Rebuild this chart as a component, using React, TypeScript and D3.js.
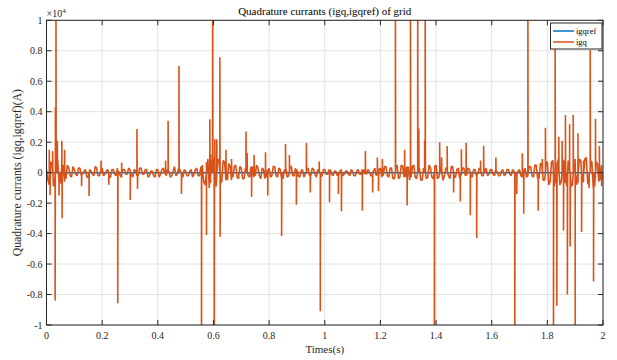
import React from "react";
import * as d3 from "d3";

// ---- data (values in units of 1e4 A) ----
const xTicks = [0, 0.2, 0.4, 0.6, 0.8, 1, 1.2, 1.4, 1.6, 1.8, 2];
const yTicks = [-1, -0.8, -0.6, -0.4, -0.2, 0, 0.2, 0.4, 0.6, 0.8, 1];
const xTickLabels = ["0", "0.2", "0.4", "0.6", "0.8", "1", "1.2", "1.4", "1.6", "1.8", "2"];
const yTickLabels = ["-1", "-0.8", "-0.6", "-0.4", "-0.2", "0", "0.2", "0.4", "0.6", "0.8", "1"];

// baseline ripple of igq, samples every 0.01 s (and a second set offset by 0.005 s),
// in units of 0.01 x 1e4
const baseStep = 0.01;
const baseNoise = [
  2, -8, 6, -5, 9, -7, 5, -4, 3, -3,
  2, -2, 3, -1, 2, -3, 1, -2, 3, -2,
  3, -1, 2, -3, 2, -2, 1, -3, 2, -1,
  2, -3, 1, -2, 3, -1, 2, -2, 1, -3,
  2, -1, 3, -2, 1, -2, 4, -1, 2, -3,
  1, -2, 2, -1, 3, -2, 5, -8, 9, -7,
  10, -9, 8, -6, 7, -5, 4, -3, 5, -4,
  3, -4, 5, -3, 4, -2, 3, -4, 2, -3,
  3, -2, 4, -3, 2, -4, 3, -2, 4, -2,
  2, -3, 2, -1, 3, -2, 2, -3, 1, -2,
  2, -1, 2, -2, 1, -2, 2, -1, 1, -2,
  1, -2, 2, -1, 2, -1, 1, -2, 3, -1,
  3, -2, 4, -3, 3, -4, 5, -3, 4, -3,
  4, -3, 5, -4, 3, -5, 4, -3, 3, -4,
  5, -3, 4, -2, 3, -4, 4, -3, 3, -2,
  3, -2, 2, -3, 2, -1, 2, -2, 3, -1,
  2, -2, 1, -2, 2, -1, 2, -2, 1, -2,
  2, -3, 3, -2, 4, -3, 5, -4, 6, -5,
  7, -6, 8, -7, 9, -6, 8, -9, 7, -8,
  9, -7, 8, -6, 10, -8, 7, -9, 6, -5,
  -4,
];
const baseNoiseMid = [
  -5, 7, -9, 8, -6, 4, -6, 5, -2, 4,
  -1, 3, -2, 1, -3, 2, -1, 4, -2, 1,
  -2, 1, -3, 2, -1, 3, -2, 2, -1, 3,
  -1, 2, -2, 3, -1, 2, -3, 1, -2, 2,
  -3, 2, -1, 2, -3, 1, -2, 3, -1, 2,
  -2, 1, -3, 2, -2, 4, -6, 7, -10, 8,
  -8, 9, -7, 8, -5, 6, -5, 4, -3, 4,
  -4, 3, -2, 4, -3, 5, -2, 3, -4, 2,
  -3, 4, -2, 3, -4, 2, -3, 4, -2, 3,
  -2, 1, -3, 2, -2, 3, -1, 2, -3, 2,
  -1, 2, -1, 1, -2, 1, -2, 1, -1, 2,
  -2, 1, -1, 2, -1, 2, -2, 1, -2, 2,
  -3, 4, -2, 3, -4, 3, -4, 5, -3, 4,
  -5, 4, -3, 4, -5, 3, -4, 5, -3, 4,
  -4, 3, -5, 3, -2, 4, -3, 2, -4, 3,
  -2, 3, -1, 2, -2, 3, -2, 1, -2, 2,
  -1, 2, -2, 1, -2, 2, -1, 2, -2, 1,
  -2, 2, -3, 4, -2, 5, -4, 6, -5, 7,
  -8, 7, -9, 6, -8, 9, -7, 8, -9, 6,
  -8, 9, -6, 9, -7, 8, -10, 7, -6, 5,
];

// spikes of igq: time (s) and value (x1e4)
const spikeT = [
  0.010, 0.013, 0.022, 0.031, 0.032, 0.034, 0.039, 0.045, 0.055, 0.056, 0.065,
  0.126, 0.153, 0.196, 0.224, 0.256, 0.270, 0.301, 0.325, 0.327,
  0.428, 0.437, 0.476, 0.485, 0.557, 0.575, 0.587, 0.590, 0.597, 0.603, 0.605,
  0.612, 0.623, 0.624, 0.645, 0.665, 0.717, 0.721, 0.737, 0.746, 0.787, 0.795,
  0.845, 0.859, 0.873, 0.898, 0.934, 0.948, 0.980, 0.984,
  1.017, 1.049, 1.060, 1.135, 1.146, 1.172, 1.189, 1.193, 1.207, 1.254, 1.287,
  1.296, 1.308, 1.334, 1.338, 1.359, 1.361, 1.394, 1.413, 1.420, 1.440, 1.463,
  1.487, 1.491, 1.508, 1.523, 1.546, 1.560, 1.571, 1.615, 1.683, 1.690, 1.710,
  1.715, 1.730, 1.767, 1.782, 1.793, 1.822, 1.828, 1.834, 1.841, 1.853, 1.858,
  1.865, 1.872, 1.880, 1.882, 1.893, 1.900, 1.910, 1.923, 1.930, 1.950, 1.954,
  1.966, 1.973, 1.987, 1.995,
];
const spikeV = [
  0.15, -0.146, 0.14, -0.84, 0.43, 1.2, 0.21, -0.15, 0.21, -0.30, 0.15,
  -0.09, -0.153, 0.08, -0.08, -0.857, 0.066, -0.18, 0.287, -0.107,
  0.08, 0.34, 0.70, -0.14, -1.2, -0.41, 0.35, 0.12, 1.2, -1.2, 0.22,
  0.22, 0.757, -0.42, 0.15, 0.09, 0.27, 0.13, -0.16, 0.116, 0.134, -0.15,
  -0.415, 0.188, 0.116, -0.21, 0.195, -0.13, 0.073, -0.91,
  -0.195, -0.14, -0.253, -0.25, 0.142, -0.13, 0.10, -0.12, 0.09, 1.2, 0.15,
  -0.216, 1.2, 1.2, 0.29, 0.21, 1.2, -1.2, 0.20, 0.10, 0.175, -0.13,
  -0.19, 0.153, 0.197, -0.28, -0.43, 0.08, 0.177, 0.10, -1.2, -0.14, 0.127,
  -0.27, 1.2, -0.25, 0.09, 0.295, -1.2, 0.85, -0.873, 0.236, 0.21, -0.38,
  0.378, -0.80, 0.317, -0.485, 0.378, -1.2, 0.258, -0.39, 0.08, -0.10, 0.805,
  -0.715, 0.352, 0.175, -0.09,
];

// reference igqref
const refT = [0, 2];
const refV = [0, 0];

const FONT = "'Liberation Serif', 'Times New Roman', serif";

export default function App() {
  const W = 617;
  const H = 360;
  const x = d3.scaleLinear().domain([0, 2]).range([46.5, 603]);
  const y = d3.scaleLinear().domain([-1, 1]).range([325, 20.3]);
  const [x0, x1] = x.range();
  const [y0, y1] = y.range();

  // each spike is drawn as a narrow excursion: up from 0, to its value, back to 0
  const spikePts: [number, number, number][] = [];
  spikeT.forEach((t, i) => {
    spikePts.push([t, 0, 0]);
    spikePts.push([t, spikeV[i], 1]);
    spikePts.push([t + 0.0008, 0, 2]);
  });

  const pts: [number, number, number][] = [
    ...baseNoise.map((v, i) => [i * baseStep, v / 100, 0] as [number, number, number]),
    ...baseNoiseMid.map((v, i) => [i * baseStep + baseStep / 2, v / 100, 0] as [number, number, number]),
    ...spikePts,
  ].sort((a, b) => a[0] - b[0] || a[2] - b[2]);

  const line = d3
    .line<[number, number, number]>()
    .x((d) => x(d[0]))
    .y((d) => y(d[1]));

  const refLine = d3
    .line<[number, number]>()
    .x((d) => x(d[0]))
    .y((d) => y(d[1]));
  const refPts: [number, number][] = refT.map((t, i) => [t, refV[i]]);

  const tickLen = 5;
  const axisColor = "#262626";
  const gridColor = "#e2e2e2";

  return (
    <svg
      width={W}
      height={H}
      style={{ position: "absolute", left: 0, top: 0, background: "#fff" }}
      fontFamily={FONT}
    >
      <defs>
        <clipPath id="plotclip">
          <rect x={x0} y={y1} width={x1 - x0} height={y0 - y1} />
        </clipPath>
      </defs>
      <rect x={0} y={0} width={W} height={H} fill="#fff" />
      {/* grid */}
      {xTicks.map((t) => (
        <line key={"gx" + t} x1={x(t)} x2={x(t)} y1={y0} y2={y1} stroke={gridColor} strokeWidth={1} />
      ))}
      {yTicks.map((t) => (
        <line key={"gy" + t} x1={x0} x2={x1} y1={y(t)} y2={y(t)} stroke={gridColor} strokeWidth={1} />
      ))}
      {/* series */}
      <g clipPath="url(#plotclip)">
        <path d={refLine(refPts) || ""} fill="none" stroke="#0072BD" strokeWidth={1.5} />
        <path d={line(pts) || ""} fill="none" stroke="#D95319" strokeWidth={1.6} strokeLinejoin="bevel" />
      </g>
      {/* box */}
      <rect x={x0} y={y1} width={x1 - x0} height={y0 - y1} fill="none" stroke={axisColor} strokeWidth={1} />
      {/* ticks */}
      {xTicks.map((t) => (
        <g key={"tx" + t}>
          <line x1={x(t)} x2={x(t)} y1={y0} y2={y0 - tickLen} stroke={axisColor} />
          <line x1={x(t)} x2={x(t)} y1={y1} y2={y1 + tickLen} stroke={axisColor} />
        </g>
      ))}
      {yTicks.map((t) => (
        <g key={"ty" + t}>
          <line x1={x0} x2={x0 + tickLen} y1={y(t)} y2={y(t)} stroke={axisColor} />
          <line x1={x1} x2={x1 - tickLen} y1={y(t)} y2={y(t)} stroke={axisColor} />
        </g>
      ))}
      {/* tick labels */}
      {xTicks.map((t, i) => (
        <text key={"lx" + t} x={x(t)} y={y0 + 14} fontSize={10} textAnchor="middle" fill={axisColor}>
          {xTickLabels[i]}
        </text>
      ))}
      {yTicks.map((t, i) => (
        <text key={"ly" + t} x={x0 - 4} y={y(t) + 3.5} fontSize={10} textAnchor="end" fill={axisColor}>
          {yTickLabels[i]}
        </text>
      ))}
      {/* exponent */}
      <text x={x0} y={17} fontSize={10} fill={axisColor}>
        ×10<tspan dy={-4} fontSize={7}>4</tspan>
      </text>
      {/* title */}
      <text x={(x0 + x1) / 2} y={15} fontSize={11} textAnchor="middle" fill="#000">
        Quadrature currants (igq,igqref) of grid
      </text>
      {/* axis labels */}
      <text x={(x0 + x1) / 2} y={353} fontSize={11} textAnchor="middle" fill={axisColor}>
        Times(s)
      </text>
      <text
        transform={`translate(21,${(y0 + y1) / 2}) rotate(-90)`}
        fontSize={11.8}
        textAnchor="middle"
        fill={axisColor}
      >
        Quadrature currants (igq,igqref)(A)
      </text>
      {/* legend */}
      <g>
        <rect x={550.5} y={23} width={51.5} height={26} fill="#fff" stroke={axisColor} strokeWidth={1} />
        <line x1={553} x2={574} y1={31} y2={31} stroke="#0072BD" strokeWidth={1.5} />
        <text x={576} y={34} fontSize={8.5} fill="#000">igqref</text>
        <line x1={553} x2={574} y1={42} y2={42} stroke="#D95319" strokeWidth={1.5} />
        <text x={576} y={45} fontSize={8.5} fill="#000">igq</text>
      </g>
    </svg>
  );
}
